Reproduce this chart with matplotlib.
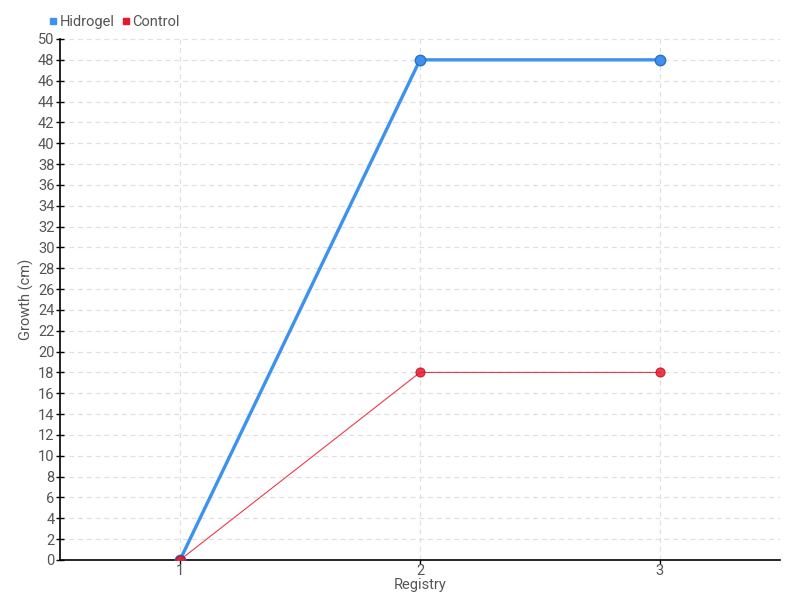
import numpy as np
import matplotlib.pyplot as plt
from matplotlib.lines import Line2D

registry = [1, 2, 3]
hidrogel = [0, 48, 48]
control = [0, 18, 18]
y_ticks = list(range(0, 51, 2))

plt.rcParams['font.family'] = ['Roboto', 'DejaVu Sans']

fig = plt.figure(figsize=(8, 6), dpi=100)
ax = fig.add_axes([0.075, 0.0667, 0.9, 0.8683])

blue = '#3d92ef'
red = '#e8192c'

ax.plot(registry, hidrogel, color=blue, lw=2.4, marker='o', ms=7.5,
        mfc=blue, mec='#2a6fc0', mew=1, zorder=3)
ax.plot(registry, control, color=red, lw=0.8, alpha=0.85, marker='o', ms=6.5,
        mfc=red, mec='#c01020', mew=0.8, zorder=4)

ax.set_xlim(0.5, 3.5)
ax.set_ylim(0, 50)
ax.set_xticks(registry)
ax.set_yticks(y_ticks)

ax.grid(True, color='#e0e0e0', linestyle=(0, (4, 3)), lw=0.9)
ax.set_axisbelow(True)
for s in ['top', 'right']:
    ax.spines[s].set_visible(False)
for s in ['left', 'bottom']:
    ax.spines[s].set_linewidth(1.2)

ax.tick_params(axis='y', direction='inout', length=6, width=1, labelsize=10.5,
               labelcolor='#555555', pad=1)
ax.tick_params(axis='x', direction='out', length=3, width=1, labelsize=10.5,
               labelcolor='#555555', pad=0)

ax.set_xlabel('Registry', fontsize=10.5, color='#555555', labelpad=0)
ax.set_ylabel('Growth (cm)', fontsize=10.5, color='#555555', labelpad=3)

handles = [Line2D([], [], ls='none', marker='s', ms=4.5, color=blue),
           Line2D([], [], ls='none', marker='s', ms=4.5, color=red)]
leg = fig.legend(handles, ['Hidrogel', 'Control'], loc='upper left',
                 bbox_to_anchor=(0.055, 0.985), ncol=2, frameon=False,
                 fontsize=10.5, handlelength=0.5, handletextpad=0.2,
                 columnspacing=0.5, borderaxespad=0)
for t in leg.get_texts():
    t.set_color('#555555')

fig.savefig('out.png', dpi=100)
